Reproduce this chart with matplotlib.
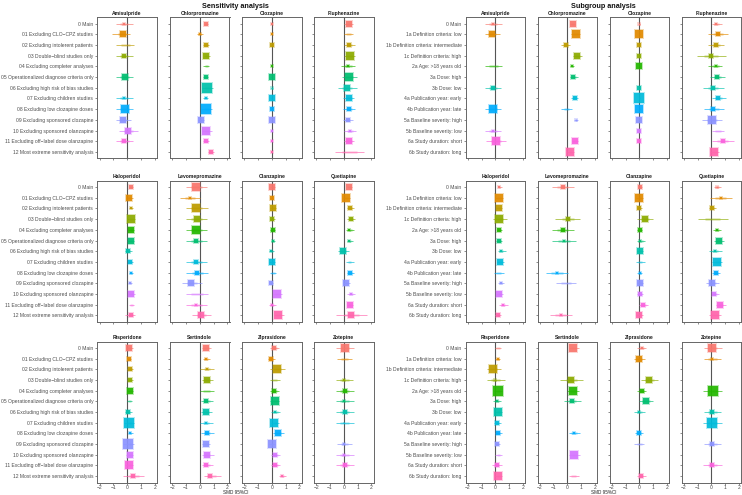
import matplotlib
matplotlib.use('Agg')
import matplotlib.pyplot as plt

plt.rcParams['font.family'] = ['Liberation Sans', 'DejaVu Sans']

# ggplot hue palette, 13 levels
hue13 = ["#F8766D", "#E18A00", "#BE9C00", "#8CAB00", "#24B700", "#00BE70", "#00C1AB",
         "#00BBDA", "#00ACFC", "#8B93FF", "#D575FE", "#F962DD", "#FF65AC"]

sens_labels = ["0 Main", "01 Excluding CLO\u2212CPZ studies", "02 Excluding intolerent patients",
               "03 Double\u2212blind studies only", "04 Excluding completer analyses",
               "05 Operationalized diagnose criteria only", "06 Excluding high risk of bias studies",
               "07 Excluding children studies", "08 Excluding low clozapine doses",
               "09 Excluding sponsored clozapine", "10 Excluding sponsored olanzapine",
               "11 Excluding off\u2212label dose olanzapine", "12 Most extreme sensitivity analysis"]
sub_labels = ["0 Main", "1a Definition criteria: low", "1b Definition criteria: intermediate",
              "1c Definition criteria: high", "2a Age: >18 years old", "3a Dose: high", "3b Dose: low",
              "4a Publication year: early", "4b Publication year: late", "5a Baseline severity: high",
              "5b Baseline severity: low", "6a Study duration: short", "6b Study duration: long"]
drugs = ["Amisulpride", "Chlorpromazine", "Clozapine", "Fluphenazine",
         "Haloperidol", "Levomepromazine", "Olanzapine", "Quetiapine",
         "Risperidone", "Sertindole", "Ziprasidone", "Zotepine"]
x_ticks = [-2, -1, 0, 1, 2]

# (SMD, lower 95% CI, upper 95% CI, weight); None = not estimated
# ---------------- Sensitivity analysis ----------------
sens_amisulpride = [(-0.2, -0.80, 0.41, 2), (-0.27, -1.07, 0.22, 6), (-0.1, -0.80, 0.51, 0),
                    (-0.2, -0.80, 0.41, 3), None, (-0.17, -0.80, 0.41, 6), None,
                    (-0.22, -0.80, 0.41, 2), (-0.17, -0.80, 0.46, 7), (-0.27, -0.80, 0.27, 5),
                    (0.1, -0.56, 0.83, 6), (-0.2, -0.83, 0.46, 3), None]
sens_chlorpromazine = [(0.44, 0.29, 0.61, 4), (0.0, -0.2, 0.2, 2), (0.46, 0.24, 0.68, 3),
                       (0.49, 0.29, 0.73, 5), (0.5, 0.22, 0.68, 0), (0.44, 0.24, 0.63, 3),
                       (0.53, 0.17, 0.95, 9), (0.44, 0.2, 0.63, 2), (0.49, 0.1, 0.9, 9),
                       (0.1, -0.15, 0.34, 5), (0.49, 0.15, 0.88, 8), (0.46, 0.27, 0.68, 4),
                       (0.8, 0.63, 1.02, 4)]
sens_clozapine = [(0, -0.03, 0.03, 2), (0, -0.03, 0.03, 2), (0, -0.03, 0.03, 4), None,
                  (0, -0.03, 0.03, 2.5), (0, -0.03, 0.03, 5), (0, -0.03, 0.03, 1.5),
                  (0, -0.03, 0.03, 5), (0, -0.03, 0.03, 4), (0, -0.03, 0.03, 5),
                  (0, -0.03, 0.03, 2), (0, -0.03, 0.03, 2), (0, -0.03, 0.03, 2)]
sens_fluphenazine = [(0.36, 0.02, 0.68, 5), (0.35, 0.0, 0.68, 0), (0.41, 0.0, 0.80, 3),
                     (0.44, 0.0, 0.85, 7), (0.32, -0.22, 0.85, 2), (0.39, -0.15, 0.93, 7),
                     (0.22, -0.41, 0.93, 5), (0.36, -0.05, 0.78, 6), (0.39, -0.07, 0.85, 3),
                     (0.29, -0.05, 0.68, 4), (0.44, 0.0, 0.88, 2), (0.41, 0.05, 0.78, 5),
                     (0.4, -0.63, 1.49, 0)]
sens_haloperidol = [(0.27, 0.12, 0.41, 3), (0.17, -0.07, 0.41, 6), (0.29, 0.12, 0.46, 2),
                    (0.29, -0.02, 0.61, 8), (0.29, 0.07, 0.51, 5), (0.27, 0.0, 0.54, 6),
                    (0.05, -0.17, 0.37, 3), (0.24, 0.05, 0.41, 4), (0.29, 0.12, 0.46, 2),
                    (0.22, 0.07, 0.37, 2), (0.32, 0.07, 0.56, 6), (0.3, 0.12, 0.51, 0),
                    (0.27, -0.12, 0.61, 3)]
sens_levomepromazine = [(-0.27, -1.02, 0.54, 7), (-0.68, -1.41, 0.0, 2), (-0.24, -1.02, 0.59, 8),
                        (-0.22, -1.0, 0.54, 5), (-0.24, -1.02, 0.54, 7), (-0.24, -1.02, 0.54, 3),
                        None, (-0.27, -1.02, 0.54, 4), (-0.19, -1.0, 0.59, 3),
                        (-0.6, -1.29, 0.15, 6), (-0.2, -1.02, 0.61, 0), (-0.24, -1.02, 0.54, 2),
                        (0.12, -0.54, 0.83, 5)]
sens_olanzapine = [(0.05, -0.15, 0.27, 6), (0.0, -0.12, 0.12, 3), (0.1, -0.12, 0.32, 6),
                   (0.05, -0.1, 0.2, 3), (0.07, -0.1, 0.27, 4), (0.07, -0.07, 0.22, 2),
                   (-0.02, -0.2, 0.17, 2), (0.02, -0.2, 0.27, 6), (0.1, -0.15, 0.34, 0),
                   (-0.02, -0.15, 0.12, 3), (0.36, 0.07, 0.71, 7), (0.05, -0.17, 0.29, 2),
                   (0.49, 0.15, 0.88, 8)]
sens_quetiapine = [(0.41, 0.2, 0.63, 5), (0.17, -0.07, 0.44, 7), (0.46, 0.2, 0.78, 3),
                   (0.51, 0.2, 0.80, 4), (0.41, 0.15, 0.73, 2), (0.41, 0.2, 0.68, 2),
                   (-0.02, -0.44, 0.39, 6), (0.4, 0.15, 0.71, 0), (0.44, 0.2, 0.73, 4),
                   (0.19, -0.05, 0.49, 6), (0.51, 0.22, 0.83, 2), (0.44, 0.2, 0.68, 6),
                   (0.56, -0.54, 1.66, 5)]
sens_risperidone = [(0.17, -0.1, 0.41, 6), (0.15, -0.02, 0.29, 3), (0.22, 0.0, 0.44, 3),
                    (0.19, -0.02, 0.41, 3), (0.22, -0.02, 0.46, 6), (0.2, 0.0, 0.39, 0),
                    (0.1, -0.12, 0.37, 3), (0.15, -0.22, 0.51, 9), (0.22, 0.05, 0.41, 2),
                    (0.1, -0.29, 0.51, 10), (0.22, -0.05, 0.46, 6), (0.15, -0.15, 0.46, 8),
                    (0.46, -0.27, 1.22, 4)]
sens_sertindole = [(0.49, 0.17, 0.85, 5), (0.46, 0.2, 0.73, 2), (0.53, 0.05, 1.02, 2),
                   (0.51, 0.15, 0.93, 6), (0.5, 0.0, 1.02, 0), (0.49, 0.12, 0.93, 3),
                   (0.44, 0.1, 0.88, 6), (0.46, 0.0, 0.93, 2), (0.53, 0.12, 1.02, 4),
                   (0.44, 0.17, 0.73, 5), (0.51, 0.15, 1.02, 6), (0.49, 0.15, 0.93, 3),
                   (0.78, 0.29, 1.51, 4)]
sens_ziprasidone = [(0.19, -0.1, 0.54, 3), (-0.02, -0.24, 0.2, 3), (0.41, -0.1, 0.93, 7),
                    (0.2, -0.1, 0.59, 0), (0.19, -0.1, 0.54, 3), (0.22, -0.1, 0.54, 7),
                    (0.27, -0.05, 0.63, 2), (0.19, -0.05, 0.54, 7), (0.46, 0.07, 0.88, 6),
                    (0.02, -0.2, 0.2, 8), (0.24, -0.05, 0.63, 3), (0.22, -0.05, 0.63, 4),
                    (0.78, 0.54, 1.07, 2)]
sens_zotepine = [(0.07, -0.54, 0.73, 7), (0.05, -0.51, 0.63, 0), None,
                 (0.02, -0.59, 0.68, 2), (0.07, -0.59, 0.73, 3), (0.05, -0.59, 0.73, 2),
                 (0.07, -0.59, 0.73, 3), (0.05, -0.59, 0.73, 1), None,
                 (0.05, -0.49, 0.63, 2), (0.02, -0.59, 0.73, 2), (0.07, -0.59, 0.73, 4), None]

# ---------------- Subgroup analysis ----------------
sub_amisulpride = [(-0.17, -0.76, 0.44, 2), (-0.25, -0.79, 0.34, 6), None, None,
                   (-0.1, -0.79, 0.44, 0), None, (-0.17, -0.76, 0.39, 3), None,
                   (-0.2, -0.79, 0.39, 7), None, (-0.15, -0.74, 0.39, 2),
                   (0.07, -0.66, 0.79, 8), None]
sub_chlorpromazine = [(0.39, 0.22, 0.56, 5), (0.61, 0.27, 0.91, 8), (-0.12, -0.42, 0.17, 4),
                      (0.74, 0.42, 1.06, 5), (0.34, 0.17, 0.52, 2), (0.44, 0.22, 0.76, 3), None,
                      (0.54, 0.29, 0.79, 3), (-0.1, -0.42, 0.37, 0), (0.64, 0.47, 0.81, 1.5),
                      None, (0.56, 0.32, 0.81, 5), (0.22, -0.02, 0.52, 7)]
sub_clozapine = [(0, -0.03, 0.03, 1.5), (0, -0.03, 0.03, 8), (0, -0.03, 0.03, 4),
                 (0, -0.03, 0.03, 3), (0, -0.03, 0.03, 5), None, (0, -0.03, 0.03, 3),
                 (0, -0.03, 0.03, 9), (0, -0.03, 0.03, 7), (0, -0.03, 0.03, 6),
                 (0, -0.03, 0.03, 3), (0, -0.03, 0.03, 4), None]
sub_fluphenazine = [(0.36, 0.02, 0.80, 2), (0.48, -0.22, 1.23, 3), (0.31, -0.22, 0.89, 3),
                    (-0.02, -1.08, 1.04, 3), (0.31, -0.22, 0.80, 2), (0.43, -0.07, 1.0, 3),
                    (0.12, -0.6, 0.89, 3), (0.51, 0.02, 1.04, 3), (0.14, -0.55, 0.89, 3),
                    (0.02, -0.70, 0.80, 7), (0.45, 0.02, 0.92, 0), (0.82, 0.02, 1.61, 3),
                    (0.22, -0.07, 0.55, 8)]
sub_haloperidol = [(0.29, 0.15, 0.44, 2), (0.27, 0.0, 0.54, 8), (0.25, 0.05, 0.44, 5),
                   (0.29, -0.2, 0.84, 8), (0.27, 0.1, 0.47, 3), (0.27, 0.05, 0.49, 4),
                   (0.42, 0.15, 0.74, 2), (0.34, 0.1, 0.59, 5), (0.2, -0.1, 0.59, 0),
                   (0.39, 0.15, 0.59, 2), (0.29, 0.07, 0.52, 5), (0.54, 0.27, 0.88, 2),
                   (0.17, 0.0, 0.39, 4)]
sub_levomepromazine = [(-0.32, -1.11, 0.47, 3), None, None, (0.05, -0.86, 0.91, 4),
                       (-0.32, -1.11, 0.47, 3), (-0.2, -1.11, 0.66, 2), None, None,
                       (-0.74, -1.55, 0.07, 2), (-0.1, -0.79, 0.66, 0), None, None,
                       (-0.47, -1.28, 0.32, 2)]
sub_olanzapine = [(0.05, -0.07, 0.17, 4), (-0.02, -0.24, 0.24, 7), (-0.02, -0.2, 0.17, 3),
                  (0.43, -0.15, 1.02, 6), (0.02, -0.15, 0.2, 3), (0.07, -0.2, 0.39, 2),
                  (0.02, -0.2, 0.24, 5), (0.05, -0.24, 0.39, 0), (0.02, -0.15, 0.22, 2),
                  (0.05, -0.2, 0.29, 6), (0.07, -0.15, 0.29, 4), (0.27, 0.0, 0.63, 4),
                  (-0.02, -0.24, 0.24, 5)]
sub_quetiapine = [(0.41, 0.17, 0.70, 1.5), (0.67, -0.12, 1.47, 2), (0.07, -0.17, 0.36, 3),
                  (0.0, -1.0, 1.18, 0), (0.39, 0.12, 0.70, 2), (0.53, 0.17, 0.89, 5),
                  (0.27, -0.17, 0.75, 2), (0.41, 0.07, 0.80, 8), (0.31, 0.02, 0.65, 4),
                  (0.07, -0.41, 0.55, 6), (0.22, 0.02, 0.55, 3), (0.65, 0.31, 1.04, 5),
                  (0.24, -0.17, 0.70, 7)]
sub_risperidone = [(0.2, -0.05, 0.39, 0), (0.15, 0.0, 0.34, 2), (-0.17, -0.59, 0.39, 7),
                   (0.0, -0.64, 0.69, 1.5), (0.15, -0.1, 0.44, 10), (0.1, -0.2, 0.39, 2),
                   (0.2, -0.05, 0.44, 8), (0.12, -0.1, 0.39, 4), (0.17, -0.05, 0.44, 3),
                   (0.12, -0.05, 0.34, 3), (0.2, 0.0, 0.49, 0), (0.1, -0.25, 0.44, 3),
                   (0.2, 0.0, 0.44, 8)]
sub_sertindole = [(0.43, 0.1, 0.88, 7), None, None, (0.29, -0.54, 1.13, 6),
                  (0.43, 0.0, 0.88, 7), (0.36, -0.2, 0.98, 4), None, None,
                  (0.48, 0.1, 0.93, 2), None, (0.51, 0.15, 0.93, 7), None,
                  (0.4, 0.15, 0.88, 0)]
sub_ziprasidone = [(0.15, -0.15, 0.49, 2), (-0.02, -0.39, 0.39, 5), None,
                   (0.71, 0.1, 1.37, 5), (0.17, -0.15, 0.49, 4), (0.44, 0.0, 1.02, 5),
                   (0.0, -0.39, 0.39, 2), None, (-0.02, -0.34, 0.29, 4),
                   (0.0, -0.39, 0.34, 0), None, None, (0.12, -0.15, 0.44, 3)]
sub_zotepine = [(0.07, -0.56, 0.75, 8), (0.05, -0.56, 0.70, 2), None, None,
                (0.1, -0.6, 0.75, 10), None, (0.05, -0.56, 0.70, 3), (0.07, -0.6, 0.75, 9),
                None, (0.07, -0.51, 0.70, 4), None, (0.07, -0.6, 0.75, 4), None]

sens_data = [sens_amisulpride, sens_chlorpromazine, sens_clozapine, sens_fluphenazine,
             sens_haloperidol, sens_levomepromazine, sens_olanzapine, sens_quetiapine,
             sens_risperidone, sens_sertindole, sens_ziprasidone, sens_zotepine]
sub_data = [sub_amisulpride, sub_chlorpromazine, sub_clozapine, sub_fluphenazine,
            sub_haloperidol, sub_levomepromazine, sub_olanzapine, sub_quetiapine,
            sub_risperidone, sub_sertindole, sub_ziprasidone, sub_zotepine]

# ---------------- layout (pixels) ----------------
W, H = 742, 495
fig = plt.figure(figsize=(W / 100, H / 100), dpi=100)
PW, PH = 59.5, 141.0
col_x = {"sens": [97.3, 170.0, 242.0, 314.0], "sub": [465.7, 537.5, 609.7, 681.7]}
row_top = [17.3, 180.7, 341.5]
TXT = "#4d4d4d"
FS = 3.6


def draw_panel(ax, data, labels, title, show_y, show_x):
    n = len(labels)
    ax.axvline(0, color="#555555", lw=0.8, zorder=1)
    for i, rec in enumerate(data):
        if rec is None:
            continue
        est, lo, hi, w = rec
        y = n - 1 - i
        c = hue13[i]
        ax.plot([lo, hi], [y, y], color=c, lw=0.6, alpha=0.75, solid_capstyle="butt", zorder=2)
        ax.plot([est - (est - lo) * 0.5, est + (hi - est) * 0.5], [y, y], color=c, lw=2.0,
                alpha=0.25, solid_capstyle="butt", zorder=2)
        if w > 0:
            ms = w * 0.75
            ax.plot(est, y, marker="s", ms=ms + 1.4, color=c, alpha=0.3, mew=0, zorder=3)
            ax.plot(est, y, marker="s", ms=ms, color=c, alpha=0.9, mew=0, zorder=4)
    ax.set_xlim(-2.16, 2.16)
    ax.set_ylim(-0.6, n - 0.4)
    ax.set_yticks(range(n))
    if show_y:
        ax.set_yticklabels(labels[::-1], fontsize=FS, color=TXT)
    else:
        ax.set_yticklabels([])
        ax.tick_params(axis="y", length=0)
    ax.set_xticks(x_ticks)
    if show_x:
        ax.set_xticklabels([str(t).replace("-", "\u2212") for t in x_ticks], fontsize=FS, color=TXT)
    else:
        ax.set_xticklabels([])
    ax.tick_params(axis="y", length=1.8, width=0.4, color="#333333", pad=1.2)
    ax.tick_params(axis="x", length=1.2, width=0.4, color="#333333", pad=0.6)
    for s in ax.spines.values():
        s.set_color("#666666")
        s.set_linewidth(0.7)
    ax.set_title(title, fontsize=FS, fontweight="bold", color="#1a1a1a", pad=1.8)


for key, data, labels in (("sens", sens_data, sens_labels), ("sub", sub_data, sub_labels)):
    for k in range(12):
        r, cidx = divmod(k, 4)
        x0 = col_x[key][cidx]
        y0 = row_top[r]
        ax = fig.add_axes([x0 / W, 1 - (y0 + PH) / H, PW / W, PH / H])
        draw_panel(ax, data[k], labels, drugs[k], cidx == 0, r == 2)

# titles and axis captions
fig.text(235.5 / W, 1 - 7 / H, "Sensitivity analysis", ha="center", va="center",
         fontsize=5.2, fontweight="bold", color="#111111")
fig.text(603.7 / W, 1 - 7 / H, "Subgroup analysis", ha="center", va="center",
         fontsize=5.2, fontweight="bold", color="#111111")
fig.text(235.5 / W, 1 - 493 / H, "SMD 95%CI", ha="center", va="center", fontsize=3.3, color="#222222")
fig.text(603.7 / W, 1 - 493 / H, "SMD 95%CI", ha="center", va="center", fontsize=3.3, color="#222222")

fig.savefig("out.png", dpi=100, facecolor="white")
